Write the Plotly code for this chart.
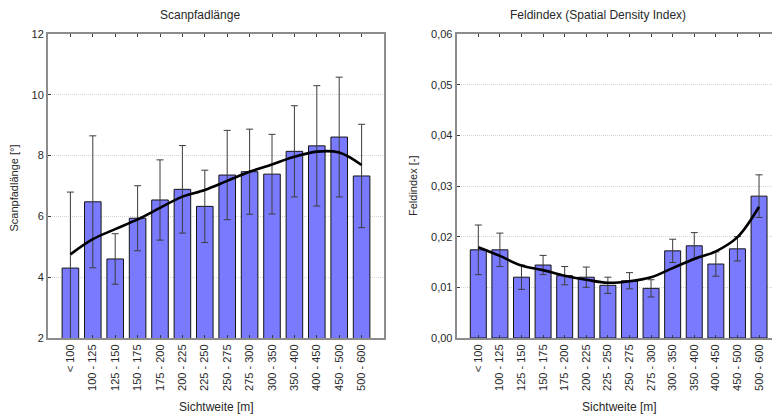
import plotly.graph_objects as go

# Sight-distance classes
categories = ["< 100", "100 - 125", "125 - 150", "150 - 175", "175 - 200",
              "200 - 225", "225 - 250", "250 - 275", "275 - 300", "300 - 350",
              "350 - 400", "400 - 450", "450 - 500", "500 - 600"]

# Scan path length [°]: means, error half-widths, smoothed trend
scan_mean = [4.30, 6.48, 4.60, 5.94, 6.54, 6.89, 6.33, 7.36, 7.47, 7.39, 8.14, 8.32, 8.61, 7.33]
scan_err = [2.50, 2.17, 0.83, 1.07, 1.32, 1.44, 1.19, 1.47, 1.40, 1.31, 1.50, 1.98, 1.97, 1.70]
scan_trend = [4.75, 5.25, 5.58, 5.90, 6.28, 6.65, 6.87, 7.17, 7.47, 7.71, 7.96, 8.13, 8.10, 7.69]

# Spatial density index [-]: means, error half-widths, smoothed trend
field_mean = [0.0174, 0.0174, 0.0120, 0.0144, 0.0123, 0.0120, 0.0104, 0.0113, 0.0098,
              0.0172, 0.0182, 0.0146, 0.0176, 0.0280]
field_err = [0.0049, 0.0033, 0.0024, 0.0019, 0.0018, 0.0020, 0.0016, 0.0016, 0.0017,
             0.0023, 0.0026, 0.0024, 0.0024, 0.0042]
field_trend = [0.0179, 0.0162, 0.0143, 0.0134, 0.0123, 0.0115, 0.0109, 0.0112, 0.0120,
               0.0138, 0.0156, 0.0171, 0.0199, 0.0259]

idx = list(range(len(categories)))

BAR = "rgb(122,122,255)"
AXIS = "rgb(140,140,140)"
TEXT = "rgb(40,40,40)"
FONT = "Liberation Sans, Arial, sans-serif"

fig = go.Figure()


def add_panel(mean, err, trend, xa, ya):
    fig.add_trace(go.Bar(
        x=idx, y=mean, width=0.74, xaxis=xa, yaxis=ya,
        marker=dict(color=BAR, line=dict(color="rgb(20,20,20)", width=1)),
        error_y=dict(type="data", array=err, visible=True, color="rgb(60,60,60)",
                     thickness=1, width=3.5),
        showlegend=False, hoverinfo="skip"))
    fig.add_trace(go.Scatter(
        x=idx, y=trend, mode="lines", xaxis=xa, yaxis=ya,
        line=dict(color="black", width=2.6, shape="spline", smoothing=1.0),
        showlegend=False, hoverinfo="skip"))


add_panel(scan_mean, scan_err, scan_trend, "x", "y")
add_panel(field_mean, field_err, field_trend, "x2", "y2")

W, H = 772, 414
L1, R1 = 48, 384
L2 = 456.7
TOP, BOT = 34, 338

xcommon = dict(tickmode="array", tickvals=idx, ticktext=categories, tickangle=-90,
               ticks="inside", ticklen=3, tickcolor="rgb(60,60,60)", showgrid=False,
               showline=True, linecolor=AXIS, linewidth=2, mirror="allticks",
               zeroline=False, tickfont=dict(family=FONT, size=11, color=TEXT))
ycommon = dict(ticks="inside", ticklen=3, tickcolor="rgb(60,60,60)",
               showgrid=True, gridcolor="rgb(212,212,212)", griddash="1px,1px", gridwidth=1,
               showline=True, linecolor=AXIS, linewidth=2, zeroline=False,
               tickfont=dict(family=FONT, size=11, color=TEXT))

fig.update_layout(
    width=W, height=H,
    margin=dict(l=0, r=0, t=TOP, b=H - BOT, pad=0),
    paper_bgcolor="white", plot_bgcolor="white",
    separators=",.",
    xaxis=dict(domain=[L1 / W, R1 / W], range=[-1, 14], anchor="y", **xcommon),
    yaxis=dict(domain=[0, 1], range=[2, 12], tickvals=[2, 4, 6, 8, 10, 12],
               anchor="x", mirror=True, **ycommon),
    xaxis2=dict(domain=[L2 / W, 1.0], range=[-1, 13.6], anchor="y2", **xcommon),
    yaxis2=dict(domain=[0, 1], range=[0, 0.06],
                tickvals=[0, 0.01, 0.02, 0.03, 0.04, 0.05, 0.06], tickformat=".2f",
                anchor="x2", mirror=False, **ycommon),
)


# paper coordinates span the plotting area between the margins
def px_x(p):
    return p / W


def px_y(p):
    return (BOT - p) / (BOT - TOP)


annotations = [
    dict(text="Scanpfadlänge", x=px_x(200), y=px_y(15), font=dict(size=12)),
    dict(text="Feldindex (Spatial Density Index)", x=px_x(598), y=px_y(15), font=dict(size=12)),
    dict(text="Sichtweite [m]", x=px_x(216), y=px_y(406.5), font=dict(size=12)),
    dict(text="Sichtweite [m]", x=px_x(619), y=px_y(406.5), font=dict(size=12)),
    dict(text="Scanpfadlänge [°]", x=px_x(13.5), y=px_y(188), textangle=-90, font=dict(size=11)),
    dict(text="Feldindex [-]", x=px_x(413), y=px_y(186), textangle=-90, font=dict(size=11)),
]
for a in annotations:
    a.update(xref="paper", yref="paper", showarrow=False, xanchor="center", yanchor="middle")
    a["font"].update(family=FONT, color=TEXT)
fig.update_layout(annotations=annotations)

fig.write_html("out.html")
